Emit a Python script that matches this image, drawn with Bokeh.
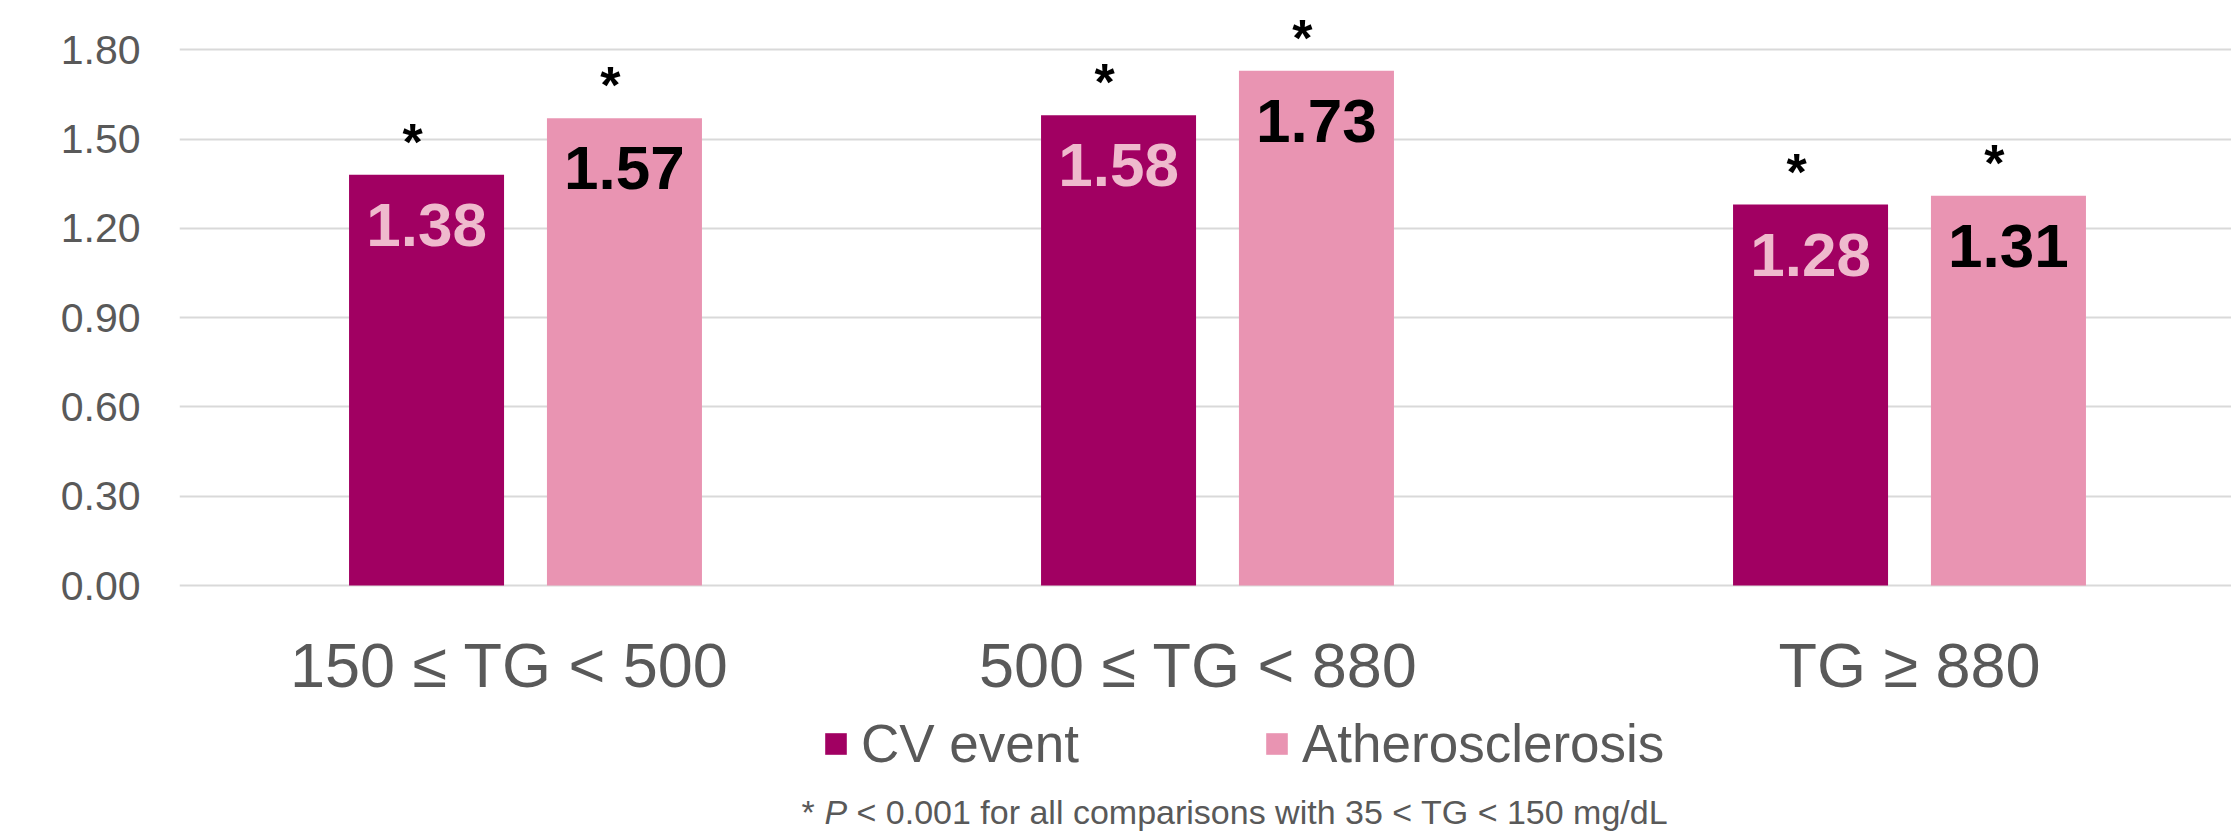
from bokeh.plotting import figure
from bokeh.models import (ColumnDataSource, FixedTicker, NumeralTickFormatter, Range1d,
                          Legend, LegendItem, Label)
from bokeh.core.properties import value
from bokeh.transform import dodge
from bokeh.embed import file_html
from bokeh.resources import INLINE

# --- data ---------------------------------------------------------------
categories = ["150 ≤ TG < 500", "500 ≤ TG < 880", "TG ≥ 880"]
cv_event = [1.38, 1.58, 1.28]
atherosclerosis = [1.57, 1.73, 1.31]
significant = ["*", "*", "*"]
y_ticks = [0.0, 0.3, 0.6, 0.9, 1.2, 1.5, 1.8]
series_names = ["CV event", "Atherosclerosis"]
footnote_star = "*"
footnote_p = "P"
footnote_rest = "< 0.001 for all comparisons with 35 < TG < 150 mg/dL"

# --- styling ------------------------------------------------------------
FONT = "Liberation Sans"
GREY_TEXT = "#595959"
CV_COLOR = "#A10062"
ATH_COLOR = "#E994B2"
CV_LABEL_COLOR = "#EFBACD"
W, H = 2231, 833
FRAME_LEFT = 179
BASELINE_PX = 585        # canvas row of the zero line
GROUP_PX = 692           # pixel width of one category slot
PX_PER_UNIT = 297.6      # vertical pixels per 1.0 of the value axis
BAR_W = 0.224
OFFSET = 0.143
label_nudge_px = [-16, -19, 0]

# the plotting frame fills the canvas below the bars too, so that the
# category names, legend and footnote sit inside it
x_end = (W - FRAME_LEFT) / GROUP_PX
y_start = -(H - BASELINE_PX) / PX_PER_UNIT
y_end = BASELINE_PX / PX_PER_UNIT

centers = [i + 0.5 for i in range(len(categories))]
label_x = [c + n / GROUP_PX for c, n in zip(centers, label_nudge_px)]

src = ColumnDataSource(dict(
    x=centers,
    cv=cv_event,
    ath=atherosclerosis,
    cv_txt=[f"{v:.2f}" for v in cv_event],
    ath_txt=[f"{v:.2f}" for v in atherosclerosis],
    star=significant,
))
cat_src = ColumnDataSource(dict(x=label_x, y=[0.0] * len(categories), name=categories))

p = figure(width=W, height=H, x_range=Range1d(0, x_end), y_range=Range1d(y_start, y_end),
           output_backend="svg", toolbar_location=None,
           min_border_left=FRAME_LEFT, min_border_right=0, min_border_top=0,
           min_border_bottom=0)
p.outline_line_color = None
p.background_fill_color = "white"
p.border_fill_color = "white"

# value axis
ya = p.yaxis[0]
ya.ticker = FixedTicker(ticks=y_ticks)
ya.formatter = NumeralTickFormatter(format="0.00")
ya.axis_line_color = None
ya.major_tick_line_color = None
ya.minor_tick_line_color = None
ya.major_label_standoff = 33
ya.major_label_text_font = FONT
ya.major_label_text_font_size = "41px"
ya.major_label_text_color = GREY_TEXT

p.xaxis.visible = False
p.xgrid.visible = False
p.ygrid.grid_line_color = "#D9D9D9"
p.ygrid.grid_line_width = 2

# bars
cv_bars = p.vbar(x=dodge("x", -OFFSET, range=p.x_range), top="cv", width=BAR_W,
                 source=src, fill_color=CV_COLOR, line_color=None)
ath_bars = p.vbar(x=dodge("x", OFFSET, range=p.x_range), top="ath", width=BAR_W,
                  source=src, fill_color=ATH_COLOR, line_color=None)

# value labels inside the bars
common = dict(text_align="center", text_baseline="middle", text_font=value(FONT),
              text_font_style="bold", text_font_size="62px", y_offset=50, source=src)
p.text(x=dodge("x", -OFFSET, range=p.x_range), y="cv", text="cv_txt",
       text_color=CV_LABEL_COLOR, **common)
p.text(x=dodge("x", OFFSET, range=p.x_range), y="ath", text="ath_txt",
       text_color="black", **common)

# significance markers above the bars
star = dict(text_align="center", text_baseline="alphabetic", text_font=value(FONT),
            text_font_style="bold", text_font_size="52px", text_color="black",
            x_offset=-14, y_offset=-33, source=src)
p.text(x=dodge("x", -OFFSET, range=p.x_range), y="cv", text="star", **star)
p.text(x=dodge("x", OFFSET, range=p.x_range), y="ath", text="star", **star)

# category names under the zero line
p.text(x="x", y="y", text="name", source=cat_src, text_align="center",
       text_baseline="middle", y_offset=79, text_font=value(FONT),
       text_font_size="63px", text_color=GREY_TEXT)

# legend
legend = Legend(items=[LegendItem(label=series_names[0], renderers=[cv_bars]),
                       LegendItem(label=series_names[1], renderers=[ath_bars])],
                orientation="horizontal", location=(643, 59),
                glyph_width=27, glyph_height=27, label_standoff=12, spacing=184,
                padding=0, margin=0, border_line_color=None, background_fill_alpha=0,
                label_text_font=FONT, label_text_font_size="53px",
                label_text_color=GREY_TEXT)
p.add_layout(legend)

# footnote
fn = dict(x_units="screen", y_units="screen", y=22, text_baseline="middle",
          text_font=FONT, text_font_size="34px", text_color=GREY_TEXT)
p.add_layout(Label(x=622, text=footnote_star, **fn))
p.add_layout(Label(x=645, text=footnote_p, text_font_style="italic", **fn))
p.add_layout(Label(x=677, text=footnote_rest, **fn))

open("out.html", "w").write(file_html(p, INLINE))
